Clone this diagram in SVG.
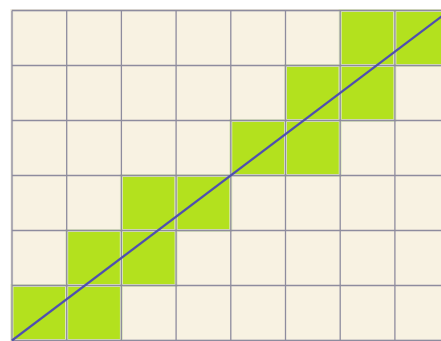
<svg xmlns="http://www.w3.org/2000/svg" width="441" height="341" viewBox="0 0 441 341">
<style>
.c{fill:#f8f2e2;stroke:#ece8dc;stroke-width:3}
.g{fill:#b3e11e;stroke:#dfe8c0;stroke-width:3}
.gl{stroke:#8e8c9e;stroke-width:1.3;fill:none}
.ln{stroke:#4f4fb0;stroke-width:2.2;fill:none}
</style>
<rect width="441" height="341" fill="#ffffff"/>
<g id="cells">
<rect class="c" x="12" y="10.5" width="437.6" height="330"/>
</g>
<g id="green">
<rect class="g" x="340.2" y="10.5" width="54.7" height="55"/>
<rect class="g" x="394.9" y="10.5" width="54.7" height="55"/>
<rect class="g" x="285.5" y="65.5" width="54.7" height="55"/>
<rect class="g" x="340.2" y="65.5" width="54.7" height="55"/>
<rect class="g" x="230.8" y="120.5" width="54.7" height="55"/>
<rect class="g" x="285.5" y="120.5" width="54.7" height="55"/>
<rect class="g" x="121.4" y="175.5" width="54.7" height="55"/>
<rect class="g" x="176.1" y="175.5" width="54.7" height="55"/>
<rect class="g" x="66.7" y="230.5" width="54.7" height="55"/>
<rect class="g" x="121.4" y="230.5" width="54.7" height="55"/>
<rect class="g" x="12" y="285.5" width="54.7" height="55"/>
<rect class="g" x="66.7" y="285.5" width="54.7" height="55"/>
</g>
<g id="grid" class="gl">
<path d="M12 10.5V341M66.7 10.5V341M121.4 10.5V341M176.1 10.5V341M230.8 10.5V341M285.5 10.5V341M340.2 10.5V341M394.9 10.5V341"/>
<path d="M12 10.5H441M12 65.5H441M12 120.5H441M12 175.5H441M12 230.5H441M12 285.5H441M12 340.5H441"/>
</g>
<g id="connectors">
<line class="ln" x1="12" y1="340.5" x2="449.6" y2="10.5"/>
</g>
</svg>
